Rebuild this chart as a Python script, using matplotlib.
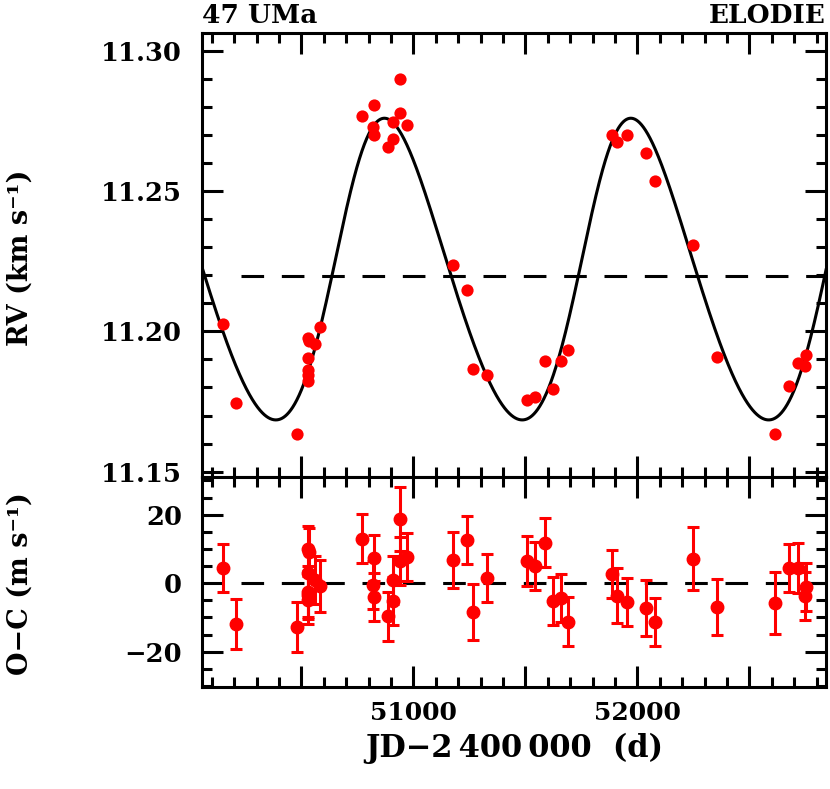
import numpy as np
import matplotlib
matplotlib.use('Agg')
import matplotlib.pyplot as plt
from matplotlib.ticker import MultipleLocator, NullFormatter

# ELODIE radial velocities of 47 UMa
jd = [50151.8, 50208.5, 50479.5, 50531.3, 50534.4, 50531.3, 50531.3, 50531.3, 50531.3, 50561.2, 50583.5,
      50769.6, 50826.0, 50821.4, 50826.0, 50885.7, 50910.7, 50910.7, 50940.6, 50940.6, 50971.9,
      51175.9, 51238.4, 51267.9, 51327.7, 51508.9, 51543.3, 51588.0, 51622.3, 51658.0, 51692.0,
      51885.7, 51910.7, 51952.7, 52038.8, 52079.0, 52250.0, 52357.0, 52614.7, 52678.6, 52718.8,
      52748.7, 52753.0]
rv = [11.2026, 11.1746, 11.1634, 11.1976, 11.1966, 11.1905, 11.1862, 11.1845, 11.1824, 11.1955, 11.2017,
      11.2767, 11.2807, 11.2729, 11.2699, 11.2657, 11.2687, 11.2746, 11.2779, 11.2898, 11.2737,
      11.2237, 11.2148, 11.1866, 11.1845, 11.1755, 11.1767, 11.1895, 11.1796, 11.1895, 11.1935,
      11.2699, 11.2675, 11.2699, 11.2637, 11.2536, 11.2306, 11.1907, 11.1634, 11.1806, 11.1886,
      11.1875, 11.1917]
# residuals O-C and their errors (m/s)
oc = [4.4, -12.0, -12.8, 10.0, 9.0, 3.0, -2.5, -3.5, -5.0, 1.0, -0.8,
      13.0, 7.3, -0.5, -3.9, -9.7, -5.2, 1.0, 6.5, 18.8, 7.7,
      6.8, 12.6, -8.3, 1.5, 6.5, 5.1, 11.8, -5.2, -4.2, -11.2,
      2.6, -3.6, -5.4, -7.3, -11.2, 7.1, -6.9, -5.7, 4.5, 4.5,
      -3.6, -1.0]
err = [7.0, 7.3, 7.2, 6.6, 7.0, 7.0, 7.5, 7.0, 7.0, 7.0, 7.5,
       7.2, 6.7, 7.0, 7.0, 7.2, 7.0, 7.0, 7.0, 9.3, 7.0,
       8.2, 7.0, 8.2, 7.0, 7.2, 7.0, 7.2, 7.0, 7.0, 7.2,
       7.0, 8.0, 7.0, 8.2, 7.0, 9.2, 8.1, 9.1, 7.0, 7.3,
       7.0, 7.0]

# fitted orbit (Keplerian) drawn as the solid line
period = 1100.0
k_amp = 0.05375
ecc = 0.105
omega = np.radians(-62.7)
t_peri = 50710.5
v0 = 11.2196

xmin, xmax = 50055.0, 52842.0
dash_start = 50229.0


def kepler_rv(t):
    M = 2 * np.pi * (t - t_peri) / period
    E = M.copy()
    for i in range(40):
        E = E - (E - ecc * np.sin(E) - M) / (1 - ecc * np.cos(E))
    nu = 2 * np.arctan2(np.sqrt(1 + ecc) * np.sin(E / 2), np.sqrt(1 - ecc) * np.cos(E / 2))
    return v0 + k_amp * (np.cos(nu + omega) + ecc * np.cos(omega))


serif = 'DejaVu Serif'
lw = 2.2
dash = (0, (7.4, 5.8))

fig = plt.figure(figsize=(8.3, 7.89), dpi=100)
ax1 = fig.add_axes([0.2430, 0.3958, 0.7522, 0.5620])
ax2 = fig.add_axes([0.2430, 0.1297, 0.7522, 0.2662])

t = np.linspace(xmin, xmax, 3000)
ax1.plot(t, kepler_rv(t), color='black', lw=lw, zorder=2)
ax1.plot([dash_start, xmax], [v0, v0], color='black', lw=lw, linestyle=dash, zorder=1)
ax1.plot(jd, rv, 'o', color='red', ms=8.8, mew=0, zorder=3)

ax2.plot([dash_start, xmax], [0, 0], color='black', lw=lw, linestyle=dash, zorder=1)
ax2.errorbar(jd, oc, yerr=err, fmt='o', color='red', ecolor='red', ms=9, mec='red',
             elinewidth=lw, capsize=4.5, capthick=lw, zorder=3)

ax1.set_xlim(xmin, xmax)
ax2.set_xlim(xmin, xmax)
ax1.set_ylim(11.1482, 11.3062)
ax2.set_ylim(-30.2, 31.1)

for ax in (ax1, ax2):
    for s in ax.spines.values():
        s.set_linewidth(lw)
    ax.xaxis.set_major_locator(MultipleLocator(500))
    ax.xaxis.set_minor_locator(MultipleLocator(100))
    ax.tick_params(which='both', direction='in', top=True, right=True, width=lw)
    ax.tick_params(which='major', length=15)
    ax.tick_params(which='minor', length=7.5)
    ax.tick_params(axis='y', pad=14)
    ax.tick_params(axis='x', pad=10)

ax1.yaxis.set_minor_locator(MultipleLocator(0.01))
ax1.xaxis.set_major_formatter(NullFormatter())
ax1.set_yticks([11.15, 11.20, 11.25, 11.30])
ax1.set_yticklabels(['11.15', '11.20', '11.25', '11.30'], fontfamily=serif,
                    fontweight='bold', fontsize=18.5)

ax2.yaxis.set_minor_locator(MultipleLocator(5))
ax2.set_yticks([-20, 0, 20])
ax2.set_yticklabels(['\u221220', '0', '20'], fontfamily=serif, fontweight='bold', fontsize=18.5)
ax2.set_xticks([50500, 51000, 51500, 52000, 52500])
ax2.set_xticklabels(['', '51000', '', '52000', ''], fontfamily=serif, fontweight='bold', fontsize=18)

fig.text(0.024, 0.673, 'RV (km s\u207b\u00b9)', rotation=90, ha='center', va='center',
         fontfamily=serif, fontweight='bold', fontsize=19.5)
fig.text(0.024, 0.261, 'O\u2212C (m s\u207b\u00b9)', rotation=90, ha='center', va='center',
         fontfamily=serif, fontweight='bold', fontsize=19.5)
fig.text(0.619, 0.041, 'JD\u22122\u2009400\u2009000  (d)', ha='center', va='baseline',
         fontfamily=serif, fontweight='bold', fontsize=22)
fig.text(0.243, 0.971, '47 UMa', ha='left', va='baseline',
         fontfamily=serif, fontweight='bold', fontsize=19)
fig.text(0.995, 0.971, 'ELODIE', ha='right', va='baseline',
         fontfamily=serif, fontweight='bold', fontsize=19)

fig.savefig('out.png', dpi=100)
